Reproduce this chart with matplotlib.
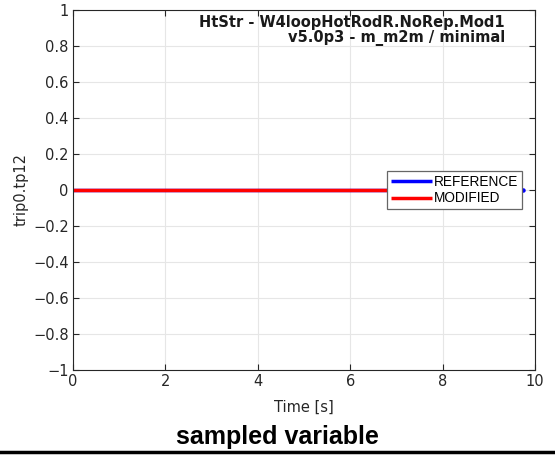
import matplotlib
matplotlib.use("Agg")
import matplotlib.pyplot as plt
import numpy as np

plt.rcParams['font.family'] = ['DejaVu Sans']

time_ref = [0.0, 9.75]
val_ref = [0.0, 0.0]
time_mod = [0.0, 9.70]
val_mod = [0.0, 0.0]
xticks = [0, 2, 4, 6, 8, 10]
yticks = [-1, -0.8, -0.6, -0.4, -0.2, 0, 0.2, 0.4, 0.6, 0.8, 1]
ytick_labels = ["\u22121", "\u22120.8", "\u22120.6", "\u22120.4", "\u22120.2", "0", "0.2", "0.4", "0.6", "0.8", "1"]

fig = plt.figure(figsize=(5.55, 4.55), dpi=100)
ax = fig.add_axes([73/555, 1-370/455, (535-73)/555, 360/455])

ax.plot(time_ref, val_ref, color="#0000ff", lw=2.5, label="REFERENCE", solid_capstyle="butt")
ax.plot(time_ref[-1:], val_ref[-1:], marker="o", ms=2.2, color="#0000ff", ls="none", zorder=5)
ax.plot(time_mod, val_mod, color="#ff0000", lw=2.5, label="MODIFIED", solid_capstyle="butt")

ax.set_xlim(0, 10)
ax.set_ylim(-1, 1)
ax.set_xticks(xticks)
ax.set_yticks(yticks)
ax.set_yticklabels(ytick_labels)
ax.grid(True, color="#e6e6e6", lw=0.8)
ax.set_axisbelow(True)
ax.tick_params(direction="in", length=4, top=True, right=True, labelsize=10.5, colors="#262626", pad=3)
for s in ax.spines.values():
    s.set_color("#262626")
    s.set_linewidth(0.8)

ax.set_xlabel("Time [s]", fontsize=10.5, color="#262626", labelpad=8)
ax.set_ylabel("trip0.tp12", fontsize=10.5, color="#262626", labelpad=3)

ax.text(0.935, 0.985, "HtStr - W4loopHotRodR.NoRep.Mod1\nv5.0p3 - m_m2m / minimal",
        transform=ax.transAxes, ha="right", va="top", fontsize=10.5,
        fontweight="semibold", color="#1a1a1a", linespacing=1.0, multialignment="right")

leg = ax.legend(loc="center right", bbox_to_anchor=(0.972, 0.5), fontsize=9.8,
                frameon=True, fancybox=False, edgecolor="#666666", framealpha=1,
                borderpad=0.3, labelspacing=0.2, handlelength=3.0, handletextpad=0.1,
                borderaxespad=0)
leg.get_frame().set_linewidth(0.9)
for t in leg.get_texts():
    t.set_family("Liberation Sans")

fig.text(0.5, 1-437/455, "sampled variable", ha="center", va="center",
         fontsize=18, fontweight="bold", family="Liberation Sans")
fig.add_artist(plt.Line2D([0, 1], [1-452/455, 1-452/455], color="black", lw=2.5,
                          transform=fig.transFigure))

fig.savefig("out.png", dpi=100)
